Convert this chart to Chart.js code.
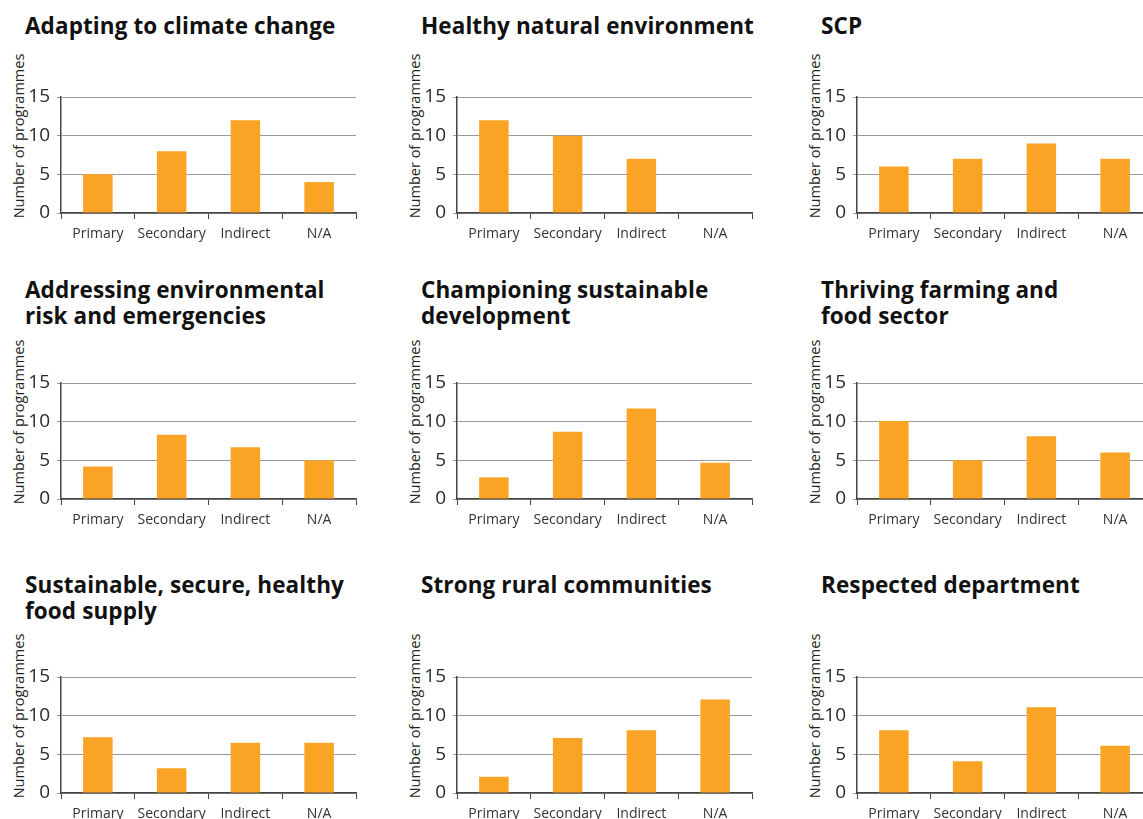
<!DOCTYPE html>
<html>
<head>
<meta charset="utf-8">
<script src="https://cdn.jsdelivr.net/npm/chart.js@4.4.0/dist/chart.umd.min.js"></script>
<style>
  html, body { margin: 0; padding: 0; background: #fff; }
  #wrap { position: relative; width: 1143px; height: 819px; overflow: hidden; font-family: "Open Sans", sans-serif; }
  .ttl { position: absolute; font-size: 22.5px; font-weight: 700; line-height: 26px; color: #111; white-space: nowrap; letter-spacing: 0.1px; }
  .ylab { position: absolute; font-size: 14.5px; color: #222; white-space: nowrap; transform: translate(-50%, -50%) rotate(-90deg); }
  canvas { position: absolute; }
</style>
</head>
<body>
<div id="wrap"></div>
<script>
const categories = ['Primary', 'Secondary', 'Indirect', 'N/A'];
const yTicks = [0, 5, 10, 15];

const adaptingClimate = [5, 8, 12, 4];
const healthyEnvironment = [12, 10, 7, 0];
const scp = [6, 7, 9, 7];
const addressingRisk = [4.2, 8.3, 6.7, 5];
const championing = [2.8, 8.7, 11.7, 4.7];
const thrivingFarming = [10.1, 5, 8.1, 6];
const foodSupply = [7.2, 3.2, 6.5, 6.5];
const ruralCommunities = [2.1, 7.1, 8.1, 12.1];
const respectedDept = [8.1, 4.1, 11.1, 6.1];

const titles = [
  ['Adapting to climate change'],
  ['Healthy natural environment'],
  ['SCP'],
  ['Addressing environmental', 'risk and emergencies'],
  ['Championing sustainable', 'development'],
  ['Thriving farming and', 'food sector'],
  ['Sustainable, secure, healthy', 'food supply'],
  ['Strong rural communities'],
  ['Respected department']
];
const series = [adaptingClimate, healthyEnvironment, scp, addressingRisk, championing,
  thrivingFarming, foodSupply, ruralCommunities, respectedDept];

const colOffset = [0, 396, 796];
const plotTop = [97, 383, 677];
const titleTop = [13, 277, 572];
const plotW = 295, plotH = 116;
const padL = 45, padT = 15, padR = 5, padB = 35;

const wrap = document.getElementById('wrap');

series.forEach((vals, i) => {
  const col = i % 3, row = Math.floor(i / 3);
  const x0 = colOffset[col];
  const left = 61 + x0;
  const top = plotTop[row];

  const t = document.createElement('div');
  t.className = 'ttl';
  t.style.left = (25 + x0) + 'px';
  t.style.top = titleTop[row] + 'px';
  t.innerHTML = titles[i].join('<br>');
  wrap.appendChild(t);

  const yl = document.createElement('div');
  yl.className = 'ylab';
  yl.textContent = 'Number of programmes';
  yl.style.left = (17.5 + x0) + 'px';
  yl.style.top = (top + plotH - 77) + 'px';
  wrap.appendChild(yl);

  const cv = document.createElement('canvas');
  cv.width = padL + plotW + padR;
  cv.height = padT + plotH + padB;
  cv.style.left = (left - padL) + 'px';
  cv.style.top = (top - padT) + 'px';
  wrap.appendChild(cv);

  new Chart(cv.getContext('2d'), {
    type: 'bar',
    data: {
      labels: categories,
      datasets: [{
        data: vals,
        backgroundColor: '#F9A425',
        barPercentage: 0.8,
        categoryPercentage: 0.5
      }]
    },
    options: {
      responsive: false,
      animation: false,
      layout: { padding: { top: padT, right: padR, left: 0, bottom: 0 } },
      plugins: { legend: { display: false }, tooltip: { enabled: false } },
      scales: {
        x: {
          afterFit: s => { s.height = padB; },
          grid: { drawOnChartArea: false, tickLength: 6, color: '#444' },
          border: { color: '#444', width: 1.5 },
          ticks: { color: '#333', padding: 7, maxRotation: 0, minRotation: 0, autoSkip: false,
            font: { family: 'Open Sans', size: 14 } }
        },
        y: {
          min: 0,
          max: 15,
          afterFit: s => { s.width = padL; },
          afterBuildTicks: s => { s.ticks = yTicks.map(v => ({ value: v })); },
          grid: { color: '#9a9a9a', tickLength: 4 },
          border: { color: '#444', width: 1.5 },
          ticks: { color: '#2a2a2a', padding: 7, font: { family: 'Open Sans', size: 19, lineHeight: 16 / 19 } }
        }
      }
    }
  });
});
</script>
</body>
</html>
